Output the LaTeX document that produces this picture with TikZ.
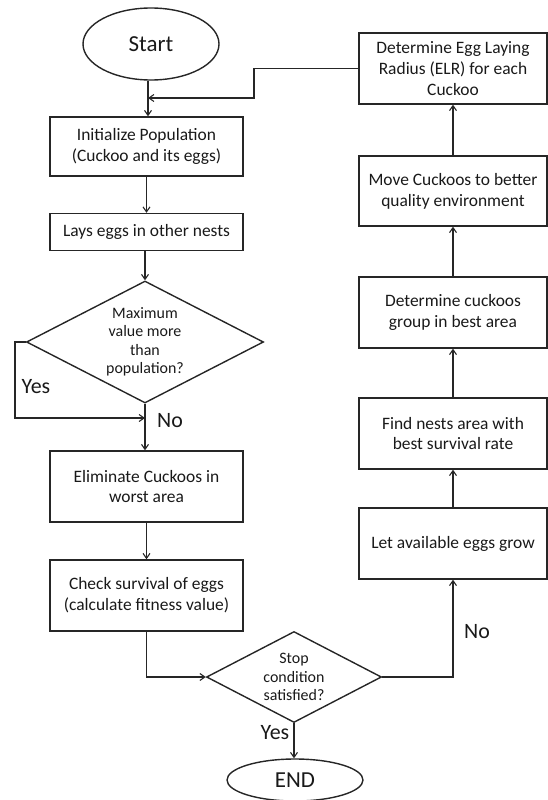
\documentclass[tikz,border=0pt]{standalone}
\usepackage{fontspec}
\setmainfont{Carlito}
\usetikzlibrary{shapes.geometric,arrows.meta}
\begin{document}
\begin{tikzpicture}[x=1bp,y=-1bp,
  every node/.style={text=black!90},
  line/.style={draw=black!85,line width=1.4bp},
  arr/.style={line,-{Straight Barb[length=5bp,width=7bp,line width=1.1bp]}},
  stepbox/.style={line,rectangle,inner sep=2bp,align=center,font=\fontsize{17.5}{21}\selectfont},
  decision/.style={line,diamond,inner sep=0bp,align=center,font=\fontsize{16}{18.5}\selectfont},
  terminal/.style={line,ellipse,inner sep=0bp,font=\fontsize{23}{26}\selectfont},
  lbl/.style={font=\fontsize{22}{26}\selectfont,inner sep=0bp}
]
\useasboundingbox (0,0) rectangle (548,800);

% left column
\node[terminal,minimum width=136bp,minimum height=72bp] (start) at (151,44) {Start};
\node[stepbox,minimum width=193bp,minimum height=59bp] (init) at (146.5,146.5) {Initialize Population\\(Cuckoo and its eggs)};
\node[stepbox,minimum width=193bp,minimum height=37bp] (lays) at (146.5,232) {Lays eggs in other nests};
\node[decision,minimum width=237bp,minimum height=122bp,aspect=1.94] (d1) at (145,342) {Maximum\\value more\\than\\population?};
\node[stepbox,minimum width=193bp,minimum height=71bp] (elim) at (146.5,486.5) {Eliminate Cuckoos in\\worst area};
\node[stepbox,minimum width=193bp,minimum height=71bp] (check) at (146.5,595.5) {Check survival of eggs\\(calculate fitness value)};
\node[decision,minimum width=175bp,minimum height=91bp,aspect=1.92] (d2) at (294,677) {Stop\\condition\\satisfied?};
\node[terminal,minimum width=136bp,minimum height=42bp] (end) at (295,780) {END};

% right column
\node[stepbox,minimum width=188bp,minimum height=71bp] (elr) at (453,68.5) {Determine Egg Laying\\Radius (ELR) for each\\Cuckoo};
\node[stepbox,minimum width=188bp,minimum height=70bp] (move) at (453,191) {Move Cuckoos to better\\quality environment};
\node[stepbox,minimum width=188bp,minimum height=71bp] (group) at (453,312.5) {Determine cuckoos\\group in best area};
\node[stepbox,minimum width=188bp,minimum height=71bp] (find) at (453,433.5) {Find nests area with\\best survival rate};
\node[stepbox,minimum width=188bp,minimum height=71bp] (grow) at (453,543.5) {Let available eggs grow};

% helper coordinates
\coordinate (rb) at (254,98);
\coordinate (j) at (148,98);
\coordinate (yl) at (15,342);
\coordinate (ye) at (145,418);

% connectors
\draw[arr] (start.south -| j) -- (init.north -| j);
\draw[arr] (elr.west) -| (rb) -- (j);
\draw[arr] (init) -- (lays);
\draw[arr] (lays.south -| d1.north) -- (d1.north);
\draw[arr] (d1.west) -- (yl) |- (ye);
\draw[arr] (d1.south) -- (elim.north -| d1.south);
\draw[arr] (elim) -- (check);
\draw[arr] (check.south) |- (d2.west);
\draw[arr] (d2.south) -- (end.north -| d2.south);
\draw[arr] (d2.east) -| (grow.south);
\draw[arr] (grow) -- (find);
\draw[arr] (find) -- (group);
\draw[arr] (group) -- (move);
\draw[arr] (move) -- (elr);

% labels
\node[lbl] (yes1) at (36,387) {Yes};
\node[lbl] (no1) at (170,421) {No};
\node[lbl] (yes2) at (275,733) {Yes};
\node[lbl] (no2) at (477,632) {No};
\end{tikzpicture}
\end{document}
